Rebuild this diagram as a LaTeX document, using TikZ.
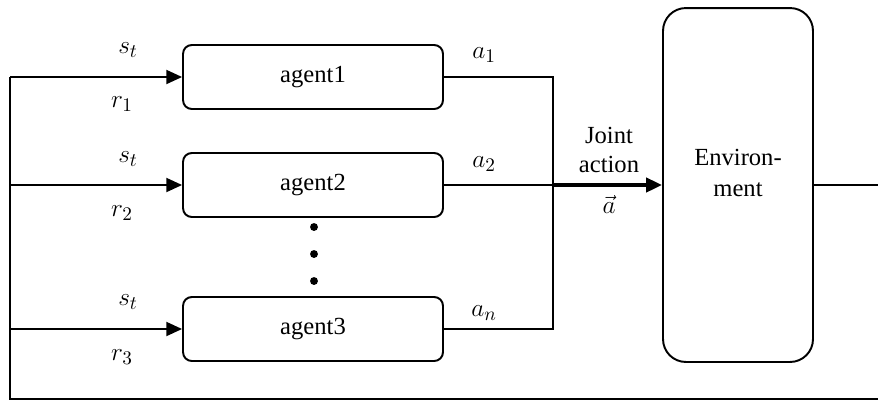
\documentclass[tikz,border=0pt]{standalone}
\usepackage{fontspec}
\setmainfont{Liberation Serif}
\usetikzlibrary{arrows.meta}
\begin{document}
\begin{tikzpicture}[x=0.02cm,y=-0.02cm,
  line width=1.1pt,
  agentbox/.style={draw,rounded corners=5pt,minimum width=5.2cm,minimum height=1.28cm,font=\fontsize{14}{16}\selectfont,inner sep=0pt},
  envbox/.style={draw,rounded corners=13pt,minimum width=3cm,minimum height=7.08cm,inner sep=0pt},
  lbl/.style={font=\fontsize{14}{16}\selectfont,inner sep=0pt},
  mlbl/.style={font=\fontsize{15.5}{17}\selectfont,inner sep=0pt},
  arr/.style={-{Triangle[length=9pt,width=8pt]}},
  dotst/.style={circle,fill,inner sep=0pt,minimum size=4.5pt}]
\useasboundingbox (0,0) rectangle (878,403);
\node[agentbox] (ag1) at (313,77) {agent1};
\node[agentbox] (ag2) at (313,185) {agent2};
\node[agentbox] (ag3) at (313,329) {agent3};
\node[envbox] (env) at (738,185) {};
\node[lbl,align=center] (envt) at (738,173) {Environ-\\[2pt]ment};
\node[dotst] (d1) at (314,227) {};
\node[dotst] (d2) at (314,254) {};
\node[dotst] (d3) at (314,281) {};
% coordinates
\coordinate (lt) at (10,77);
\coordinate (lm) at (10,185);
\coordinate (lb) at (10,329);
\coordinate (bl) at (10,399);
\coordinate (br) at (890,399);
\coordinate (tr) at (890,185);
\coordinate (j1) at (553,77);
\coordinate (j2) at (553,185);
\coordinate (j3) at (553,329);
% feedback loop
\draw (env.east |- tr) -- (tr) -- (br) -- (bl) -- (lt);
\draw[arr] (lt) -- (ag1.west);
\draw[arr] (lm) -- (ag2.west);
\draw[arr] (lb) -- (ag3.west);
% actions
\draw (ag1.east) -- (j1) -- (j3) -- (ag3.east);
\draw (ag2.east) -- (j2);
\draw[arr,line width=2pt] (j2) -- (env.west |- j2);
% labels
\node[mlbl] (s1) at (128,50) {$s_t$};
\node[mlbl] (r1) at (122,104) {$r_1$};
\node[mlbl] (s2) at (128,159) {$s_t$};
\node[mlbl] (r2) at (122,213) {$r_2$};
\node[mlbl] (s3) at (128,302) {$s_t$};
\node[mlbl] (r3) at (122,357) {$r_3$};
\node[mlbl] (a1) at (484,55) {$a_1$};
\node[mlbl] (a2) at (484,164) {$a_2$};
\node[mlbl] (an) at (484,313) {$a_n$};
\node[lbl,align=center] (joint) at (609,150) {Joint\\[1pt]action};
\node[mlbl] (vec) at (609,204) {$\vec{a}$};
\end{tikzpicture}
\end{document}
